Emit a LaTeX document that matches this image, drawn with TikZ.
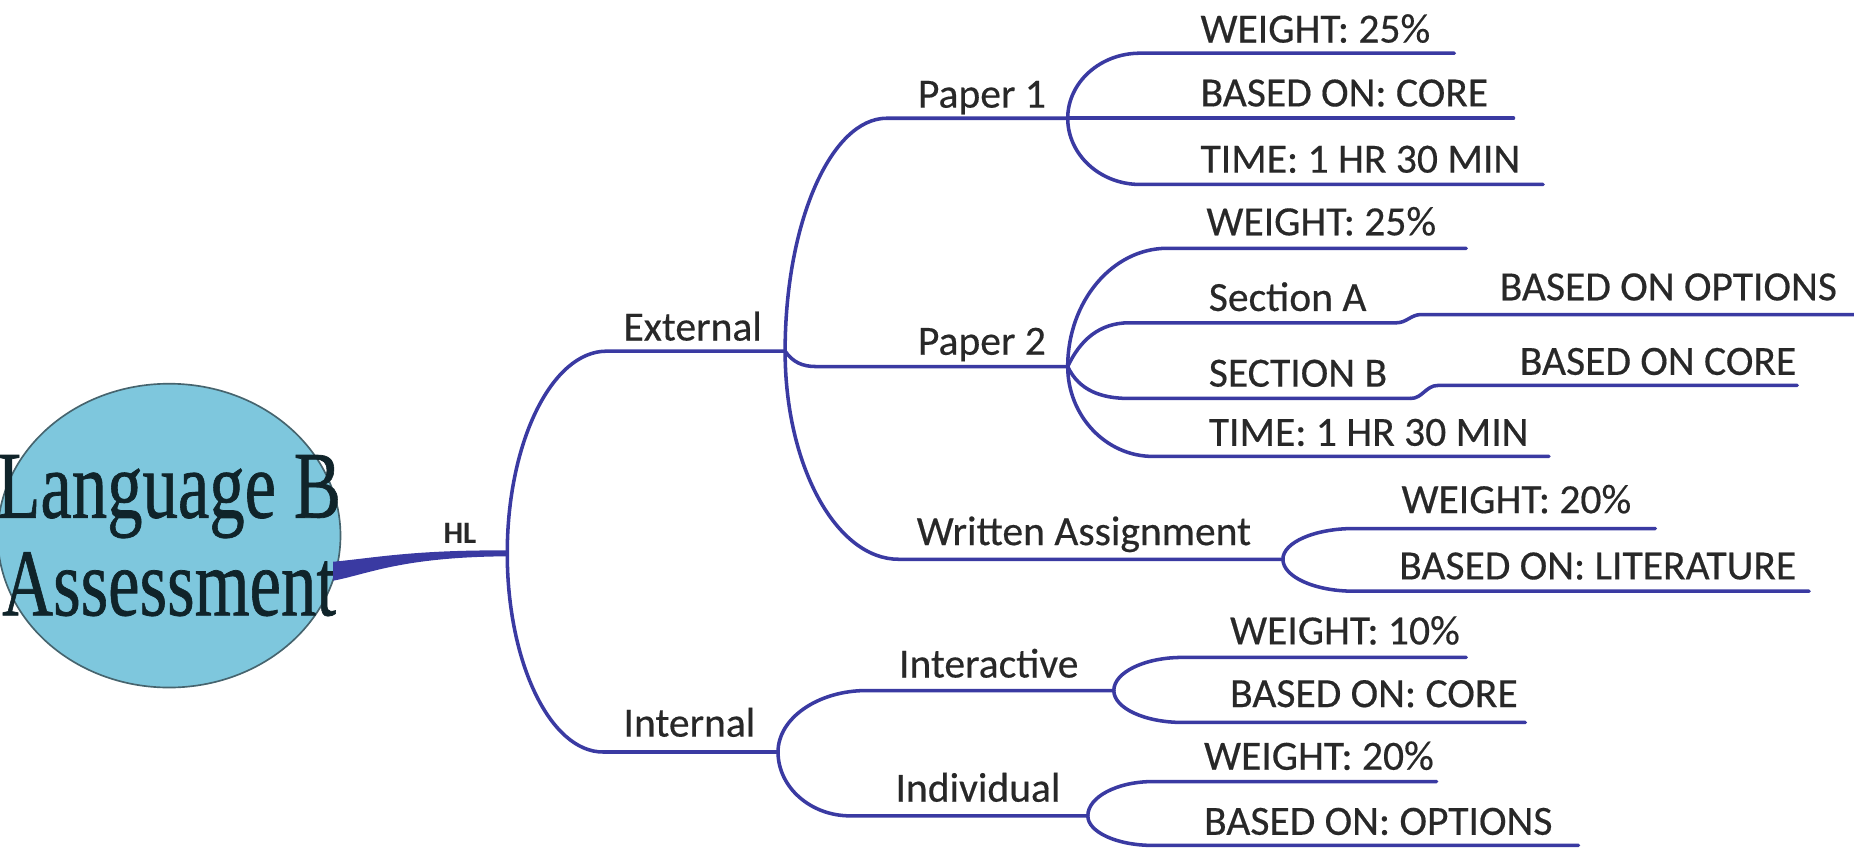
\documentclass[tikz,border=0pt]{standalone}
\usepackage{graphicx}
\usepackage{fontspec}
\setmainfont{Carlito}
\newfontfamily\lblfont{Carlito}[FakeBold=0.4]
\newfontfamily\titlefont{Liberation Serif}[FakeBold=0.8]
\usetikzlibrary{shapes.geometric,calc}
\definecolor{branchblue}{RGB}{58,58,162}
\definecolor{bubble}{RGB}{126,199,221}
\definecolor{bubbleedge}{RGB}{70,100,110}
\definecolor{ink}{RGB}{40,40,40}
\definecolor{titleink}{RGB}{16,36,42}
\begin{document}
\begin{tikzpicture}[x=0.02cm,y=-0.02cm,
  branch/.style={draw=branchblue,line width=1.7pt,line cap=round},
  % quarter-ellipse bend from a junction into a horizontal line
  curvy/.style={to path={.. controls ($(\tikztostart)!0.55!(\tikztostart|-\tikztotarget)$)
      and ($(\tikztotarget)!0.55!(\tikztostart|-\tikztotarget)$) .. (\tikztotarget) \tikztonodes}},
  lbl/.style={font=\lblfont\fontsize{20}{24}\selectfont,text=ink,inner sep=0pt,anchor=base west},
  hub/.style={ellipse,fill=bubble,draw=bubbleedge,line width=0.8pt,minimum width=5.8cm,minimum height=5.14cm,inner sep=0pt}]

% page
\fill[white] (0,0) rectangle (1568,719);
\useasboundingbox (0,0) rectangle (1568,719);

% central topic
\node[hub] (root) at (143,453) {};
\node[text=titleink,align=center,inner sep=0pt,font=\titlefont\fontsize{46}{47}\selectfont] (roottext) at (root.center)
  {\scalebox{0.74}[1]{Language B}\\\scalebox{0.74}[1]{Assessment}};

% junction and line-end points
\coordinate (hlj) at (429,468);
\coordinate (ext-s) at (513,297);   \coordinate (ext-e) at (664,297);
\coordinate (int-s) at (510,636);   \coordinate (int-e) at (658,636);
\coordinate (p1-s) at (750,100);    \coordinate (p1-e) at (903,100);
\coordinate (p2-s) at (690,310);    \coordinate (p2-e) at (903,310);
\coordinate (wa-s) at (760,473);    \coordinate (wa-e) at (1085,473);
\coordinate (ia-s) at (733,584);    \coordinate (ia-e) at (942,584);
\coordinate (ind-s) at (719,690);   \coordinate (ind-e) at (920,690);
\coordinate (p1w-s) at (964,45);    \coordinate (p1w-e) at (1230,45);
\coordinate (p1b-e) at (1280,100);
\coordinate (p1t-s) at (964,156);   \coordinate (p1t-e) at (1305,156);
\coordinate (p2w-s) at (987,210);   \coordinate (p2w-e) at (1240,210);
\coordinate (sa-s) at (955,273);    \coordinate (sa-e) at (1181,273);
\coordinate (sao-s) at (1202,266);  \coordinate (sao-e) at (1568,266);
\coordinate (sb-s) at (955,337);    \coordinate (sb-e) at (1193,337);
\coordinate (sbc-s) at (1216,326);  \coordinate (sbc-e) at (1520,326);
\coordinate (p2t-s) at (975,386);   \coordinate (p2t-e) at (1310,386);
\coordinate (waw-s) at (1145,447);  \coordinate (waw-e) at (1400,447);
\coordinate (wal-s) at (1145,500);  \coordinate (wal-e) at (1530,500);
\coordinate (iaw-s) at (1000,556);  \coordinate (iaw-e) at (1240,556);
\coordinate (iab-s) at (1000,611);  \coordinate (iab-e) at (1290,611);
\coordinate (indw-s) at (975,661);  \coordinate (indw-e) at (1215,661);
\coordinate (indo-s) at (975,715);  \coordinate (indo-e) at (1335,715);

% tapered main branch from the central topic
\fill[branchblue]
  ($(root.-12)+(-3,-8)$) .. controls ($(root.-12)+(30,-11)$) and ($(hlj)+(-80,-3)$) .. ($(hlj)+(0,-2.5)$)
  -- ($(hlj)+(0,2.5)$) .. controls ($(hlj)+(-90,3)$) and ($(root.-12)+(25,3)$) .. ($(root.-12)+(-3,8)$) -- cycle;
\node[font=\bfseries\fontsize{15}{18}\selectfont,text=ink,inner sep=0pt] (hl) at (389,451) {HL};

% level 1
\draw[branch] (hlj) to[curvy] (ext-s) -- (ext-e);
\draw[branch] (hlj) to[curvy] (int-s) -- (int-e);
\node[lbl] (ext) at (527,288) {External};
\node[lbl] (int) at (527,623) {Internal};

% level 2: external
\draw[branch] (ext-e) to[curvy] (p1-s) -- (p1-e);
\draw[branch] (ext-e) to[out=-55,in=180] (p2-s) -- (p2-e);
\draw[branch] (ext-e) to[curvy] (wa-s) -- (wa-e);
\node[lbl] (p1) at (776,91) {Paper 1};
\node[lbl] (p2) at (776,300) {Paper 2};
\node[lbl] (wa) at (775,461) {Written Assignment};

% level 2: internal
\draw[branch] (int-e) to[curvy] (ia-s) -- (ia-e);
\draw[branch] (int-e) to[curvy] (ind-s) -- (ind-e);
\node[lbl] (ia) at (760,573) {Interactive};
\node[lbl] (ind) at (757,678) {Individual};

% Paper 1
\draw[branch] (p1-e) to[curvy] (p1w-s) -- (p1w-e);
\draw[branch] (p1-e) -- (p1b-e);
\draw[branch] (p1-e) to[curvy] (p1t-s) -- (p1t-e);
\node[lbl] (p1w) at (1015,36) {WEIGHT: 25\%};
\node[lbl] (p1b) at (1015,90) {BASED ON: CORE};
\node[lbl] (p1t) at (1015,146) {TIME: 1 HR 30 MIN};

% Paper 2
\draw[branch] (p2-e) to[curvy] (p2w-s) -- (p2w-e);
\draw[branch] (p2-e) to[out=65,in=180] (sa-s) -- (sa-e);
\draw[branch] (p2-e) to[out=-65,in=180] (sb-s) -- (sb-e);
\draw[branch] (p2-e) to[curvy] (p2t-s) -- (p2t-e);
\draw[branch] (sa-e) to[out=0,in=180] (sao-s) -- (sao-e);
\draw[branch] (sb-e) to[out=0,in=180] (sbc-s) -- (sbc-e);
\node[lbl] (p2w) at (1020,199) {WEIGHT: 25\%};
\node[lbl] (sa) at (1022,263) {Section A};
\node[lbl] (sao) at (1268,254) {BASED ON OPTIONS};
\node[lbl] (sb) at (1022,327) {SECTION B};
\node[lbl] (sbc) at (1285,317) {BASED ON CORE};
\node[lbl] (p2t) at (1022,377) {TIME: 1 HR 30 MIN};

% Written Assignment
\draw[branch] (wa-e) to[curvy] (waw-s) -- (waw-e);
\draw[branch] (wa-e) to[curvy] (wal-s) -- (wal-e);
\node[lbl] (waw) at (1185,434) {WEIGHT: 20\%};
\node[lbl] (wal) at (1183,490) {BASED ON: LITERATURE};

% Interactive
\draw[branch] (ia-e) to[curvy] (iaw-s) -- (iaw-e);
\draw[branch] (ia-e) to[curvy] (iab-s) -- (iab-e);
\node[lbl] (iaw) at (1040,545) {WEIGHT: 10\%};
\node[lbl] (iab) at (1040,598) {BASED ON: CORE};

% Individual
\draw[branch] (ind-e) to[curvy] (indw-s) -- (indw-e);
\draw[branch] (ind-e) to[curvy] (indo-s) -- (indo-e);
\node[lbl] (indw) at (1018,651) {WEIGHT: 20\%};
\node[lbl] (indo) at (1018,706) {BASED ON: OPTIONS};

\end{tikzpicture}
\end{document}
